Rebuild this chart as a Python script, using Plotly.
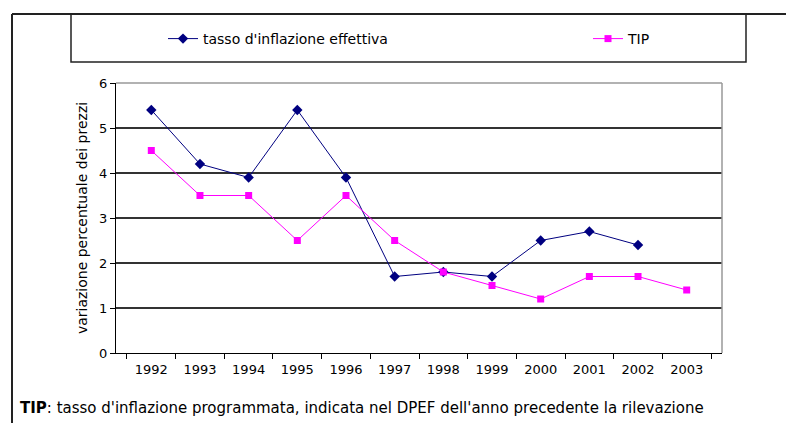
import plotly.graph_objects as go

anni = ["1992", "1993", "1994", "1995", "1996", "1997", "1998", "1999", "2000", "2001", "2002", "2003"]
inflazione_effettiva = [5.4, 4.2, 3.9, 5.4, 3.9, 1.7, 1.8, 1.7, 2.5, 2.7, 2.4, None]
tip = [4.5, 3.5, 3.5, 2.5, 3.5, 2.5, 1.8, 1.5, 1.2, 1.7, 1.7, 1.4]

W, H = 786, 423
L, R, T, B = 116, 722, 83, 353
PW, PH = R - L, B - T

def px(x):
    return (x - L) / PW

def py(y):
    return (B - y) / PH

FONT = "DejaVu Sans"

fig = go.Figure()
fig.add_trace(go.Scatter(
    x=anni, y=inflazione_effettiva, name="tasso d'inflazione effettiva",
    mode="lines+markers",
    line=dict(color="#000080", width=1),
    marker=dict(symbol="diamond", size=8, color="#000080"),
    legend="legend",
))
fig.add_trace(go.Scatter(
    x=anni, y=tip, name="TIP",
    mode="lines+markers",
    line=dict(color="#FF00FF", width=1),
    marker=dict(symbol="square", size=7, color="#FF00FF"),
    legend="legend2",
))

shapes = [
    # outer frame
    dict(type="line", xref="paper", yref="paper", x0=px(12), x1=px(790), y0=py(14), y1=py(14),
         line=dict(color="#222222", width=2)),
    dict(type="line", xref="paper", yref="paper", x0=px(12), x1=px(12), y0=py(14), y1=py(430),
         line=dict(color="#222222", width=2)),
    # legend box
    dict(type="rect", xref="paper", yref="paper", x0=px(71), x1=px(746), y0=py(14), y1=py(62),
         line=dict(color="#222222", width=1.5)),
    # plot border top/right (gray)
    dict(type="line", xref="paper", yref="paper", x0=0, x1=1, y0=1, y1=1,
         line=dict(color="#999999", width=1.5), layer="above"),
    dict(type="line", xref="paper", yref="paper", x0=1, x1=1, y0=0, y1=1,
         line=dict(color="#999999", width=1.5), layer="above"),
]

legend_common = dict(
    orientation="h", yanchor="middle", xanchor="left",
    font=dict(family=FONT, size=14, color="black"),
    bgcolor="rgba(0,0,0,0)", borderwidth=0,
)

fig.update_layout(
    width=W, height=H,
    margin=dict(l=L, r=W - R, t=T, b=H - B),
    paper_bgcolor="white", plot_bgcolor="white",
    font=dict(family=FONT, size=13, color="black"),
    showlegend=True,
    legend=dict(x=px(163), y=py(39), **legend_common),
    legend2=dict(x=px(588), y=py(39), **legend_common),
    xaxis=dict(
        type="category", tickson="boundaries", ticks="outside", ticklen=5,
        tickcolor="black", showline=True, linecolor="black", linewidth=1,
        showgrid=False, zeroline=False, tickfont=dict(size=13),
        ticklabelstandoff=4, fixedrange=True,
    ),
    yaxis=dict(
        range=[0, 6], tickvals=[0, 1, 2, 3, 4, 5, 6], ticks="outside", ticklen=5,
        tickcolor="black", showline=True, linecolor="black", linewidth=1,
        showgrid=True, gridcolor="#333333", gridwidth=1.5, zeroline=False,
        title=dict(text="variazione percentuale dei prezzi", font=dict(size=14), standoff=8),
        tickfont=dict(size=13), fixedrange=True,
    ),
    shapes=shapes,
    annotations=[
        dict(xref="paper", yref="paper", x=px(18), y=py(408), xanchor="left", yanchor="middle",
             text="<b>TIP</b>: tasso d'inflazione programmata, indicata nel DPEF dell'anno precedente la rilevazione",
             showarrow=False, font=dict(family=FONT, size=15, color="black")),
    ],
)

fig.write_html("out.html", config={"displayModeBar": False},
               post_script="document.body.style.margin='0px';")
